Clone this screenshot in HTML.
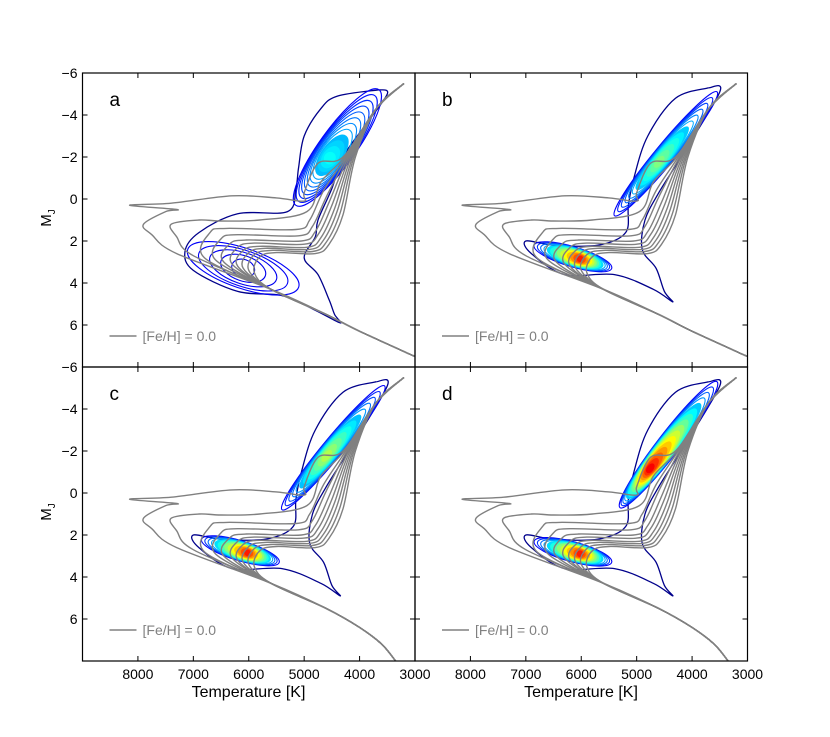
<!DOCTYPE html>
<html><head><meta charset="utf-8">
<style>
body{margin:0;background:#fff;}
svg{display:block;font-family:"Liberation Sans",sans-serif;}
</style></head>
<body>
<svg id="fig" width="830" height="737" viewBox="0 0 830 737">
<rect width="830" height="737" fill="#fff"/>
</svg>
<script>
// ---- data ----
const panelNames = ['a','b','c','d'];
const yTicks = [-6,-4,-2,0,2,4,6];
const xTicks = [8000,7000,6000,5000,4000,3000];
// isochrone parameters (youngest -> oldest)
const isoTurnT = [7300,7000,6800,6600,6450,6300,6200,6100,6000,5900];
const isoTurnM = [2.6,2.7,2.8,2.9,3.0,3.1,3.2,3.3,3.4,3.5];
const isoSubM  = [0.1,1.0,1.4,1.7,1.95,2.1,2.25,2.35,2.45,2.55];
const isoRgbT  = [5000,4950,4900,4850,4800,4750,4700,4650,4600,4550];
// lower main sequence for panels a/b and c/d
const msTabT = [3000,4000,4600,5600];
const msTabM = [7.5,6.3,5.5,4.3];
const msCdT = [3350,3600,4000,4600,5600];
const msCdM = [8.0,7.2,6.4,5.5,4.3];
// contour clusters: endpoints (T1,M1)->(T2,M2), half width px, levels, peak colour, core position
const clPanel = [0,0,1,1,2,2,3,3];
const clT1 = [5150,7100,5400,6850,5400,6850,5300,6850];
const clM1 = [0.3,2.4,0.8,2.2,0.8,2.2,0.7,2.3];
const clT2 = [3650,5100,3550,5450,3550,5450,3550,5450];
const clM2 = [-5.2,4.2,-5.1,3.3,-5.1,3.3,-5.3,3.3];
const clW  = [18,20,10,10,10,10,11,10];
const clLev= [12,5,12,14,12,14,16,14];
const clPeak=[0.38,0.1,0.5,0.85,0.55,0.85,0.88,0.85];
const clCenter=[0.4,0.5,0.43,0.6,0.43,0.6,0.3,0.6];
// outer irregular contours
const outerA_T=[3650,3500,3900,4300,4500,4750,4800,5000,4750,4550,4450,4350,4800,5400,6200,7000,7150,6900,6200,5300,5150,5100,5000,4700,4400];
const outerA_M=[-5.2,-5.0,-3.5,-2.0,-0.5,1.0,1.8,2.8,3.6,4.8,5.5,5.9,5.3,4.6,4.4,3.4,2.5,1.6,0.7,0.6,-0.5,-1.5,-3.0,-4.3,-4.9];
const outerB_T=[3700,3500,4200,4600,4850,4900,4650,4500,4350,4700,5400,6300,6900,7000,6500,5700,5200,5150,5050,4800,4300];
const outerB_M=[-5.3,-5.1,-2.0,-0.3,1.0,2.4,3.3,4.4,4.9,4.3,3.6,3.6,2.6,2.0,2.2,2.2,1.6,0.3,-1.0,-3.0,-4.8];

// ---- geometry ----
const SVGNS='http://www.w3.org/2000/svg';
const svg=document.getElementById('fig');
const panels=[{x0:82.5,y0:73,y1:367},{x0:415,y0:73,y1:367},{x0:82.5,y0:367,y1:661},{x0:415,y0:367,y1:661}];
const PXK=332.5/6000, PXM=21;
function sx(p,T){return panels[p].x0+(9000-T)*PXK;}
function sy(p,M){return panels[p].y0+(M+6)*PXM;}
function el(tag,attrs,parent){const e=document.createElementNS(SVGNS,tag);for(const k in attrs)e.setAttribute(k,attrs[k]);(parent||svg).appendChild(e);return e;}
function jet(t){
  const r=Math.max(0,Math.min(1,1.5-Math.abs(4*t-3)));
  const g=Math.max(0,Math.min(1,1.5-Math.abs(4*t-2)));
  const b=Math.max(0,Math.min(1,1.5-Math.abs(4*t-1)));
  return 'rgb('+Math.round(r*255)+','+Math.round(g*255)+','+Math.round(b*255)+')';
}
function smooth(pts){
  if(pts.length<3)return 'M'+pts.map(p=>p.join(',')).join('L');
  let d='M'+pts[0][0].toFixed(1)+','+pts[0][1].toFixed(1);
  for(let i=0;i<pts.length-1;i++){
    const p0=pts[Math.max(0,i-1)],p1=pts[i],p2=pts[i+1],p3=pts[Math.min(pts.length-1,i+2)];
    const c1=[p1[0]+(p2[0]-p0[0])/6,p1[1]+(p2[1]-p0[1])/6];
    const c2=[p2[0]-(p3[0]-p1[0])/6,p2[1]-(p3[1]-p1[1])/6];
    d+='C'+c1[0].toFixed(1)+','+c1[1].toFixed(1)+' '+c2[0].toFixed(1)+','+c2[1].toFixed(1)+' '+p2[0].toFixed(1)+','+p2[1].toFixed(1);
  }
  return d;
}

for(let p=0;p<4;p++){
  const P=panels[p];
  const g=el('g',{});
  
  
  const cid='clip'+p;
  const cp=el('clipPath',{id:cid},g);
  el('rect',{x:P.x0,y:P.y0,width:332.5,height:P.y1-P.y0},cp);
  const plot=el('g',{'clip-path':'url(#'+cid+')'},g);

  // contours
  const oT=(p===0)?outerA_T:outerB_T, oM=(p===0)?outerA_M:outerB_M;
  const op=oT.map((t,i)=>[sx(p,t),sy(p,oM[i])]);op.push(op[0]);
  const oc=el('path',{d:smooth(op),fill:'none',stroke:'#00008b','stroke-width':1.3},plot);
  
  
  for(let c=0;c<clPanel.length;c++){
    if(clPanel[c]!==p)continue;
    const x1=sx(p,clT1[c]),y1=sy(p,clM1[c]),x2=sx(p,clT2[c]),y2=sy(p,clM2[c]);
    const len=Math.hypot(x2-x1,y2-y1)/2;
    const ang=Math.atan2(y2-y1,x2-x1)*180/Math.PI;
    const n=clLev[c];
    for(let k=0;k<n;k++){
      const f=1-k/n;
      const t=0.12+(clPeak[c]-0.12)*k/(n-1);
      const fc=clCenter[c];
      const cx=x1+(x2-x1)*(0.5+(fc-0.5)*(1-f)), cy=y1+(y2-y1)*(0.5+(fc-0.5)*(1-f));
      const e=el('ellipse',{cx:cx.toFixed(1),cy:cy.toFixed(1),rx:(len*f).toFixed(1),ry:(clW[c]*Math.sqrt(f)).toFixed(1),
        transform:'rotate('+ang.toFixed(1)+' '+cx.toFixed(1)+' '+cy.toFixed(1)+')',
        fill:(t>0.3? jet(t):'none'),stroke:jet(Math.max(t,0.1)),'stroke-width':1.1},plot);
      
      
    }
  }

  // isochrones
  for(let i=0;i<isoTurnT.length;i++){
    const msT=(p<2)?msTabT:msCdT, msM=(p<2)?msTabM:msCdM;
    let pts=msT.map((t,j)=>[t,msM[j]]);
    pts.push([isoTurnT[i],isoTurnM[i]]);
    if(i===0){
      pts.push([7750,1.7],[7900,1.2],[7500,0.6],[7300,0.5],[8150,0.3],[7400,0.2],[6300,-0.15],[5500,-0.05],[5000,0.1]);
    } else if(i===1){
      pts.push([isoTurnT[i]+300,1.8],[7400,1.2],[6900,1.0],[6500,1.05],[5800,1.0]);
    } else {
      pts.push([isoTurnT[i]-100,isoSubM[i]+0.2],[isoTurnT[i]-400,isoSubM[i]],[isoRgbT[i]+250,isoSubM[i]+0.05]);
    }
    pts.push([isoRgbT[i],isoSubM[i]-0.4],[isoRgbT[i]-250,isoSubM[i]-1.8],[4300-i*25,-2],[3700,-4.3],[3200,-5.5]);
    const pp=pts.map(q=>[sx(p,q[0]),sy(p,q[1])]);
    const iso=el('path',{d:smooth(pp),fill:'none',stroke:'#808080','stroke-width':1.4},plot);
    
    
  }

  // frame & ticks
  const fr=el('rect',{x:P.x0,y:P.y0,width:332.5,height:P.y1-P.y0,fill:'none',stroke:'#000','stroke-width':1.2},g);
  
  
  yTicks.forEach(v=>{
    const y=sy(p,v);
    el('line',{x1:P.x0,x2:P.x0+5,y1:y,y2:y,stroke:'#000'},g);
    el('line',{x1:P.x0+332.5,x2:P.x0+327.5,y1:y,y2:y,stroke:'#000'},g);
    if(p%2===0){
      const tl=el('text',{x:P.x0-5,y:y+5,'text-anchor':'end','font-size':14},g);
      tl.textContent=(v<0?'\u2212'+(-v):v);
      
      
    }
  });
  xTicks.forEach(v=>{
    const x=sx(p,v);
    el('line',{x1:x,x2:x,y1:P.y0,y2:P.y0+5,stroke:'#000'},g);
    el('line',{x1:x,x2:x,y1:P.y1,y2:P.y1-5,stroke:'#000'},g);
    if(p>=2){
      const tl=el('text',{x:x,y:P.y1+18,'text-anchor':'middle','font-size':14},g);
      tl.textContent=v;
      
      
    }
  });
  const lab=el('text',{x:P.x0+27,y:P.y0+33,'font-size':19},g);
  lab.textContent=panelNames[p];
  
  
  const ly=P.y0+263;
  const ll=el('line',{x1:P.x0+27,x2:P.x0+54,y1:ly,y2:ly,stroke:'#808080','stroke-width':1.5},g);
  
  
  const lt=el('text',{x:P.x0+60,y:ly+5,'font-size':14,fill:'#808080'},g);
  lt.textContent='[Fe/H] = 0.0';
  
  
  if(p%2===0){
    const yl=el('text',{x:0,y:0,'font-size':15,transform:'translate(51,'+((P.y0+P.y1)/2-2)+') rotate(-90)','text-anchor':'middle'},g);
    yl.innerHTML='M<tspan font-size="10" dy="4">J</tspan>';
    
    
  }
  if(p>=2){
    const xl=el('text',{x:P.x0+166,y:P.y1+36,'font-size':16,'text-anchor':'middle'},g);
    xl.textContent='Temperature [K]';
    
    
  }
}
</script>
</body></html>
